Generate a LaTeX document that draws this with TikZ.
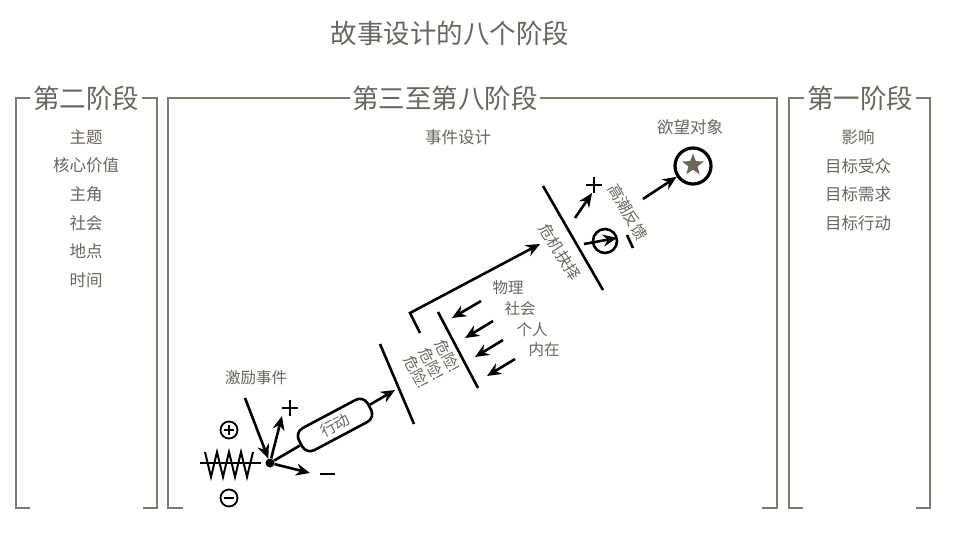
\documentclass[tikz,border=0pt]{standalone}
\usepackage{fontspec}
\setmainfont{Noto Sans CJK SC}
\usetikzlibrary{arrows.meta,shapes.geometric}
\definecolor{framegray}{HTML}{7E7971}
\definecolor{textgray}{HTML}{6A655E}
\definecolor{stargray}{HTML}{6F675D}

\begin{document}
\begin{tikzpicture}[x=1pt,y=-1pt,
    frame/.style={framegray, line width=1.8pt},
    stagename/.style={text=textgray, inner sep=2.5pt, font=\fontsize{26.5}{27}\selectfont},
    item/.style={text=textgray, font=\fontsize{16.5}{17}\selectfont},
    lbl/.style={text=textgray, font=\fontsize{15.5}{16}\selectfont},
    ink/.style={black, line width=2.6pt},
    arr/.style={ink, -{Stealth[length=14pt,width=12pt]}},
    ring/.style={draw, circle, black, line width=1.8pt, inner sep=0pt, minimum size=17pt}]
    \useasboundingbox (0,0) rectangle (955,544);

    % titles
    \node[stagename] (title) at (450,33) {故事设计的八个阶段};
    \node[stagename] (st2) at (86,98) {第二阶段};
    \node[stagename] (st38) at (445,98) {第三至第八阶段};
    \node[stagename] (st1) at (860,98) {第一阶段};

    % frames
    \draw[frame] (st2.west) -- (16,98) -- (16,508) -- (30,508);
    \draw[frame] (st2.east) -- (157,98) -- (157,508) -- (143,508);
    \draw[frame] (st38.west) -- (168,98) -- (168,508) -- (183,508);
    \draw[frame] (st38.east) -- (777,98) -- (777,508) -- (762,508);
    \draw[frame] (st1.west) -- (789,98) -- (789,508) -- (803,508);
    \draw[frame] (st1.east) -- (930,98) -- (930,508) -- (916,508);

    \foreach \t [count=\i] in {主题,核心价值,主角,社会,地点,时间}
        \node[item] (two\i) at (86,{108.5+28.6*\i}) {\t};
    \foreach \t [count=\i] in {影响,目标受众,目标需求,目标行动}
        \node[item] (one\i) at (858,{108.5+28.6*\i}) {\t};
    \node[item] (design) at (458,137) {事件设计};
    \node[item] (desire) at (690,127) {欲望对象};

    % inciting incident
    \node[lbl] (incite) at (256,378) {激励事件};
    \node[circle, fill, inner sep=0pt, minimum size=9pt] (ev) at (270,463) {};
    \draw[ink, line width=2pt] (200,463) -- (261,463);
    \draw[ink, line width=2pt] (205,452) -- (211,477) -- (217,452) -- (223,477) -- (229,452)
        -- (235,477) -- (241,452) -- (247,477) -- (253,452);
    \node[ring] (pos) at (229,430) {};
    \draw[ink, line width=1.8pt] ([xshift=-5pt]pos.center) -- ([xshift=5pt]pos.center)
        ([yshift=-5pt]pos.center) -- ([yshift=5pt]pos.center);
    \node[ring] (neg) at (229,498) {};
    \draw[ink, line width=2.4pt] ([xshift=-5pt]neg.center) -- ([xshift=5pt]neg.center);
    \coordinate (kick) at (245,398);
    \coordinate (up) at (282,416);
    \coordinate (down) at (310,473);
    \draw[arr] (kick) -- (ev);
    \draw[arr] (ev) -- (up);
    \draw[arr] (ev) -- (down);
    \draw[ink] (282,408) -- (298,408) (290,400) -- (290,416);
    \draw[ink] (320,474) -- (335,474);

    % action
    \node[draw, ink, fill=white, rounded corners=9pt, rotate=28, minimum width=78pt,
        minimum height=25pt, inner sep=0pt, lbl] (act) at (335,425) {行动};
    \coordinate (hit) at (395,390);
    \draw[ink] (ev) -- (act);
    \draw[arr] (act) -- (hit);

    % complications
    \coordinate (b1a) at (380,344); \coordinate (b1b) at (414,424);
    \coordinate (b2a) at (438,312); \coordinate (b2b) at (478,388);
    \coordinate (b3a) at (543,186); \coordinate (b3b) at (603,290);
    \draw[ink] (b1a) -- (b1b);
    \draw[ink] (b2a) -- (b2b);
    \draw[ink] (b3a) -- (b3b);
    \node[lbl, rotate=-63, align=center, font=\fontsize{15}{17.5}\selectfont] (danger) at (432,364)
        {危险!\\危险!\\危险!};
    \coordinate (c1) at (420,333);
    \coordinate (c2) at (410,313);
    \coordinate (crisisin) at (540,244);
    \draw[arr] (c1) -- (c2) -- (crisisin);
    \coordinate (f1) at (481,301); \coordinate (g1) at (452,318);
    \coordinate (f2) at (493,321); \coordinate (g2) at (465,338);
    \coordinate (f3) at (503,340); \coordinate (g3) at (475,357);
    \coordinate (f4) at (515,359); \coordinate (g4) at (487,376);
    \foreach \k in {1,2,3,4}
        \draw[arr] (f\k) -- (g\k);
    \node[lbl] (phys) at (508,288) {物理};
    \node[lbl] (soc) at (520,309) {社会};
    \node[lbl] (pers) at (532,330) {个人};
    \node[lbl] (inner) at (544,350) {内在};

    % crisis and climax
    \node[lbl, rotate=-58] (crisis) at (560,252) {危机抉择};
    \node[lbl, rotate=-60] (climax) at (628,212) {高潮反馈};
    \coordinate (ya) at (575,218); \coordinate (yb) at (592,193);
    \draw[arr] (ya) -- (yb);
    \draw[ink] (586,185) -- (602,185) (594,177) -- (594,193);
    \node[ring, minimum size=24pt, line width=2.6pt] (no) at (605,241) {};
    \coordinate (na) at (584,244); \coordinate (nb) at (617,238);
    \draw[arr] (na) -- (nb);
    \draw[ink] (627,235) -- (633,248);
    \node[circle, draw, line width=3.2pt, minimum size=36pt, inner sep=0pt] (goal) at (693,166) {};
    \node[star, star points=5, star point ratio=2.4, fill=stargray, inner sep=0pt,
        minimum size=23pt] (goalstar) at (693,165) {};
    \coordinate (za) at (643,199);
    \draw[arr] (za) -- (goal);
\end{tikzpicture}
\end{document}
